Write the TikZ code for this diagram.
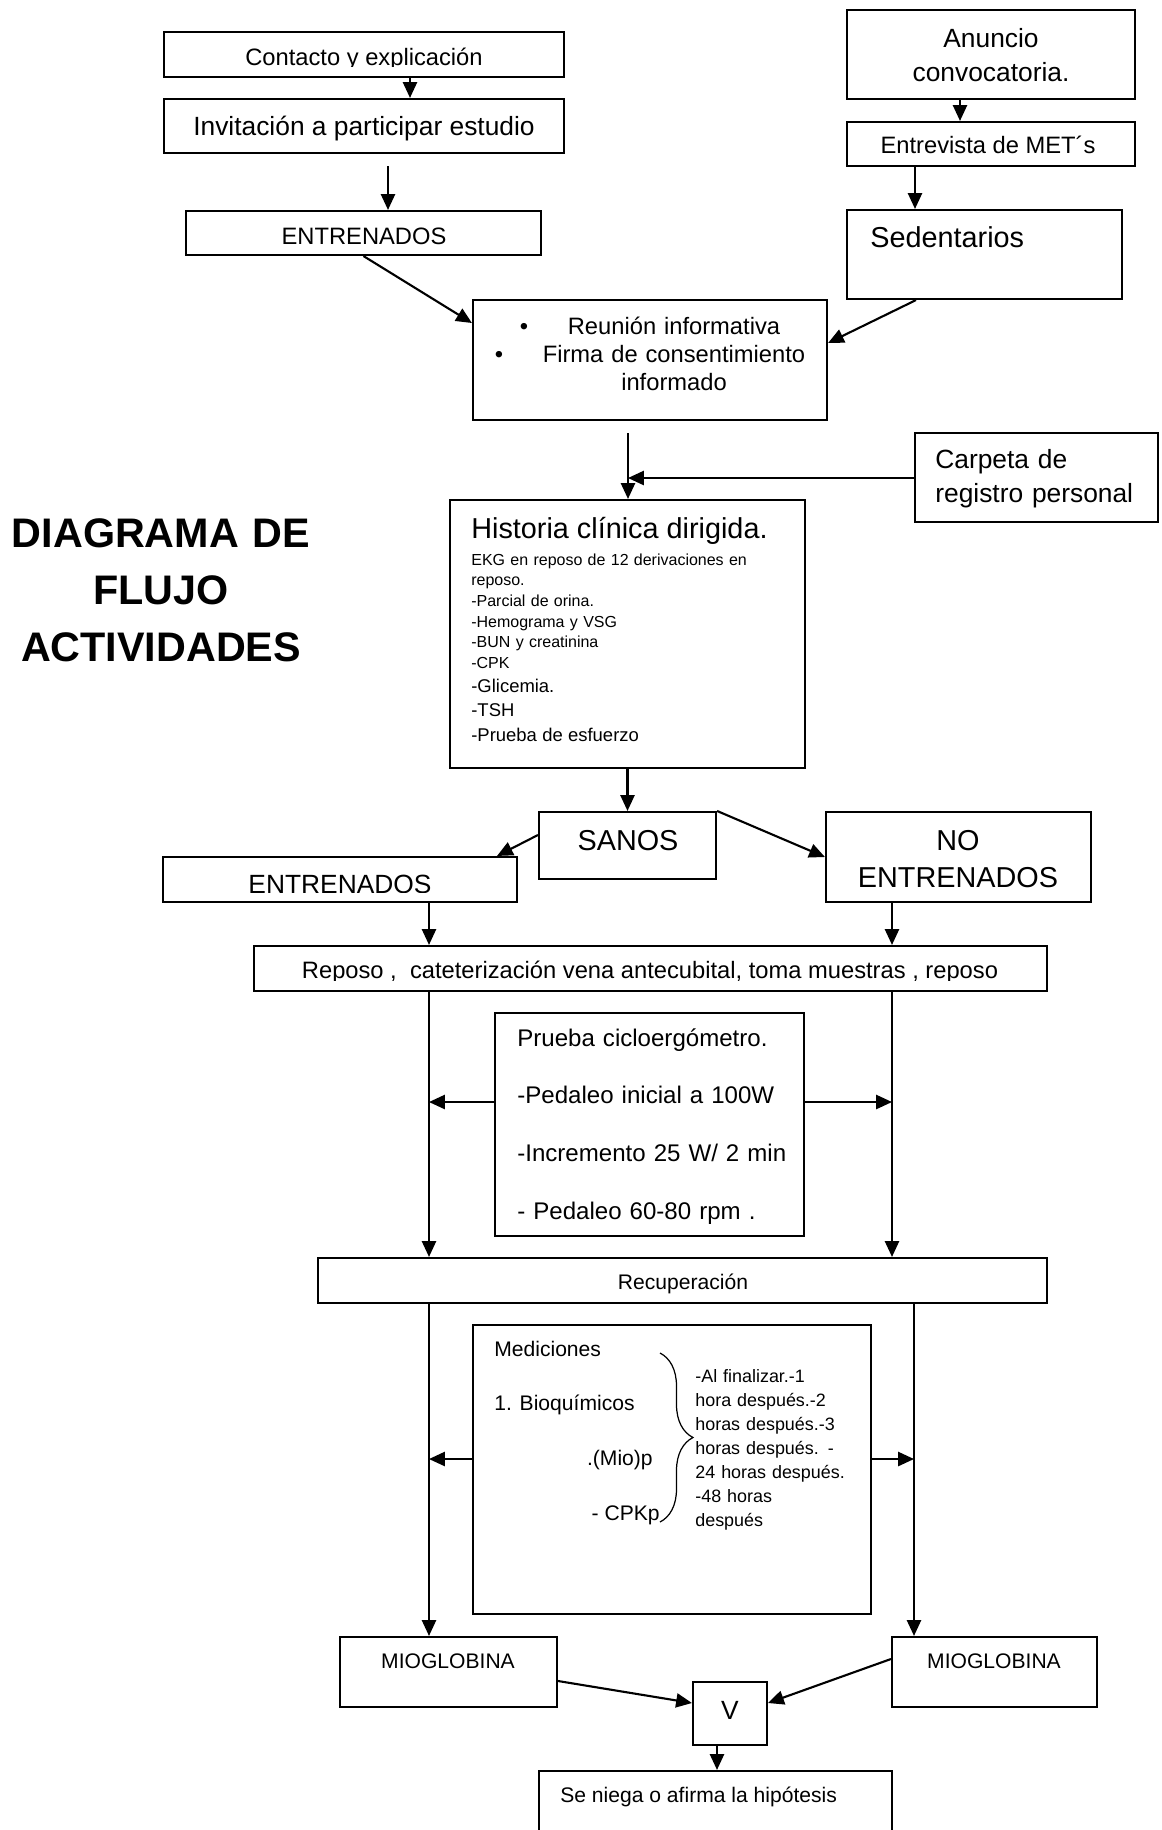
\documentclass[tikz,border=0pt]{standalone}
\usepackage{fontspec}
\setmainfont{Liberation Sans}
\usetikzlibrary{fit,arrows.meta,decorations.pathreplacing}

\begin{document}
\begin{tikzpicture}[x=0.02cm, y=-0.02cm,
  box/.style={draw, line width=1.2pt, inner sep=0pt},
  arr/.style={line width=1.2pt, -{Triangle[length=9pt,width=8pt]}},
  fsA/.style={font=\fontsize{12}{14.4}\selectfont},
  fsB/.style={font=\fontsize{13.5}{16.2}\selectfont},
  fsC/.style={font=\fontsize{15}{19.8}\selectfont},
  fsD/.style={font=\fontsize{16.4}{21.6}\selectfont},
  txt/.style={inner sep=0pt, anchor=base}]
  \useasboundingbox (0,0) rectangle (1162,1830);

  % title
  \node[txt, align=center, text width=7cm, font=\bfseries\fontsize{23.5}{32.6}\selectfont] (titulo) at (161,547) {DIAGRAMA DE\\FLUJO\\ACTIVIDADES};

  % left branch
  \node[box, fit={(164,32) (564,77)}] (contacto) {};
  \begin{scope}
    \clip (contacto.north west) rectangle (564,66);
    \node[txt, fsB] (contactotxt) at (364,65) {Contacto y explicación};
  \end{scope}
  \node[box, fit={(164,99) (564,153)}] (invitacion) {};
  \node[txt, fsC] (invitaciontxt) at (364,135) {Invitación a participar estudio};
  \draw[arr] (contacto.south -| 410,0) -- (invitacion.north -| 410,0);
  \coordinate (libre1) at (388,166);
  \node[box, fit={(186,211) (541,255)}] (entrenA) {};
  \node[txt, fsB] (entrenAtxt) at (364,244) {ENTRENADOS};
  \draw[arr] (libre1) -- (libre1 |- entrenA.north);

  % right branch
  \node[box, fit={(847,10) (1135,99)}] (anuncio) {};
  \node[txt, fsC, align=center, text width=5cm] (anunciotxt) at (991,47) {Anuncio\\convocatoria.};
  \node[box, fit={(847,122) (1135,166)}] (entrevista) {};
  \node[txt, fsB] (entrevistatxt) at (988,153) {Entrevista de MET´s};
  \draw[arr] (anuncio.south -| 960,0) -- (entrevista.north -| 960,0);
  \node[box, fit={(847,210) (1122,299)}] (sedentarios) {};
  \node[txt, fsD, anchor=base west] (sedentariostxt) at (870,247) {Sedentarios};
  \draw[arr] (entrevista.south -| 915,0) -- (sedentarios.north -| 915,0);

  % reunion
  \node[box, fit={(473,300) (827,420)}] (reunion) {};
  \node[txt, fsB, align=center, text width=6cm] (reuniontxt) at (674,334)
    {\leavevmode\llap{\textbullet\hspace{22.6pt}}Reunión informativa\\
     \leavevmode\llap{\textbullet\hspace{22.6pt}}Firma de consentimiento\\
     informado};
  \draw[arr] (entrenA.south) -- (reunion.west |- 0,323);
  \draw[arr] (sedentarios.south -| 916,0) -- (reunion.east |- 0,343);

  % historia clinica
  \coordinate (libre2) at (628,433);
  \node[box, fit={(450,500) (805,768)}] (historia) {};
  \draw[arr] (libre2) -- (libre2 |- historia.north);
  \node[box, fit={(915,433) (1158,522)}] (carpeta) {};
  \node[txt, fsC, anchor=base west, align=left, text width=5cm] (carpetatxt) at (935,468) {Carpeta de\\registro personal};
  \coordinate (cruce) at (628,478);
  \draw[arr] (carpeta.west |- cruce) -- (cruce);
  \node[txt, fsD, anchor=base west] (historiatit) at (471,538) {Historia clínica dirigida.};
  \node[txt, anchor=base west, align=left, text width=6cm, font=\fontsize{9.1}{11.8}\selectfont] (historialst) at (471,565)
    {EKG en reposo de 12 derivaciones en\\reposo.\\-Parcial de orina.\\-Hemograma y VSG\\-BUN y creatinina\\-CPK\\[1.8pt]
     {\fontsize{10.5}{13.6}\selectfont -Glicemia.}\\[1.8pt]
     {\fontsize{10.5}{13.6}\selectfont -TSH}\\[2.6pt]
     {\fontsize{10.5}{13.6}\selectfont -Prueba de esfuerzo}};

  % sanos
  \node[box, fit={(539,812) (716,879)}] (sanos) {};
  \node[txt, fsD] (sanostxt) at (628,850) {SANOS};
  \draw[arr] (historia.south) -- (sanos.north);
  \node[box, fit={(163,857) (517,902)}] (entrenB) {};
  \begin{scope}
    \clip (entrenB.north west) rectangle (517,892.5);
    \node[txt, fsC] (entrenBtxt) at (340,893) {ENTRENADOS};
  \end{scope}
  \node[box, fit={(826,812) (1091,902)}] (noentren) {};
  \node[txt, fsD, align=center, text width=5cm] (noentrentxt) at (958,850) {NO\\ENTRENADOS};
  \draw[arr] (sanos.west |- 0,835) -- (entrenB.north -| 497,0);
  \draw[arr] (sanos.north east) -- (noentren.west |- 0,857);

  % reposo
  \node[box, fit={(254,946) (1047,991)}] (reposo) {};
  \begin{scope}
    \clip (reposo.north west) rectangle (1047,980);
    \node[txt, fsB] (reposotxt) at (650,978) {Reposo ,~ cateterización vena antecubital, toma muestras , reposo};
  \end{scope}
  \draw[arr] (entrenB.south -| 429,0) -- (reposo.north -| 429,0);
  \draw[arr] (noentren.south -| 892,0) -- (reposo.north -| 892,0);

  % prueba
  \node[box, fit={(495,1013) (804,1236)}] (prueba) {};
  \node[txt, anchor=base west, align=left, text width=6cm, font=\fontsize{13.7}{33}\selectfont] (pruebatxt) at (517,1046)
    {Prueba cicloergómetro.\\-Pedaleo inicial a 100W\\-Incremento 25 W/ 2 min\\- Pedaleo 60-80 rpm .};
  \node[box, fit={(318,1258) (1047,1303)}] (recup) {};
  \node[txt, fsA] (recuptxt) at (683,1289) {Recuperación};
  \draw[arr] (reposo.south -| 429,0) -- (recup.north -| 429,0);
  \draw[arr] (reposo.south -| 892,0) -- (recup.north -| 892,0);
  \coordinate (pruebaL) at (429,1102);
  \coordinate (pruebaR) at (892,1102);
  \draw[arr] (prueba.west |- pruebaL) -- (pruebaL);
  \draw[arr] (prueba.east |- pruebaR) -- (pruebaR);

  % mediciones
  \node[box, fit={(473,1325) (871,1614)}] (medic) {};
  \node[txt, fsA, anchor=base west] (medictit) at (494,1356) {Mediciones};
  \node[txt, fsA, anchor=base west] (bioq) at (494,1410) {1. Bioquímicos};
  \node[txt, fsA, anchor=base east] (mio) at (653,1465) {.(Mio)p};
  \node[txt, fsA, anchor=base east] (cpk) at (660,1520) {- CPKp};
  \draw[line width=0.7pt, decorate, decoration={brace, amplitude=0.66cm}] (660,1353) -- (660,1522);
  \node[txt, anchor=base west, align=left, text width=4cm, font=\fontsize{10.2}{13.7}\selectfont] (tiempos) at (695,1382)
    {-Al finalizar.-1\\hora después.-2\\horas después.-3\\horas después. -\\24 horas después.\\-48 horas\\después};
  \coordinate (medicL) at (429,1459);
  \coordinate (medicR) at (914,1459);
  \draw[arr] (medic.west |- medicL) -- (medicL);
  \draw[arr] (medic.east |- medicR) -- (medicR);

  % resultado
  \node[box, fit={(340,1637) (557,1707)}] (miogA) {};
  \node[txt, fsA] (miogAtxt) at (448,1668) {MIOGLOBINA};
  \node[box, fit={(892,1637) (1097,1707)}] (miogB) {};
  \node[txt, fsA] (miogBtxt) at (994,1668) {MIOGLOBINA};
  \draw[arr] (recup.south -| medicL) -- (miogA.north -| medicL);
  \draw[arr] (recup.south -| medicR) -- (miogB.north -| medicR);
  \node[box, fit={(693,1682) (767,1745)}] (vbox) {};
  \node[txt, fsC] (vtxt) at (730,1719) {V};
  \draw[arr] (miogA.east |- 0,1681) -- (vbox.west |- 0,1703);
  \draw[arr] (miogB.west |- 0,1659) -- (vbox.east |- 0,1703);
  \node[box, fit={(539,1771) (892,1860)}] (seniega) {};
  \node[txt, fsA, anchor=base west] (seniegatxt) at (560,1802) {Se niega o afirma la hipótesis};
  \draw[arr] (vbox.south -| 717,0) -- (seniega.north -| 717,0);
\end{tikzpicture}
\end{document}
